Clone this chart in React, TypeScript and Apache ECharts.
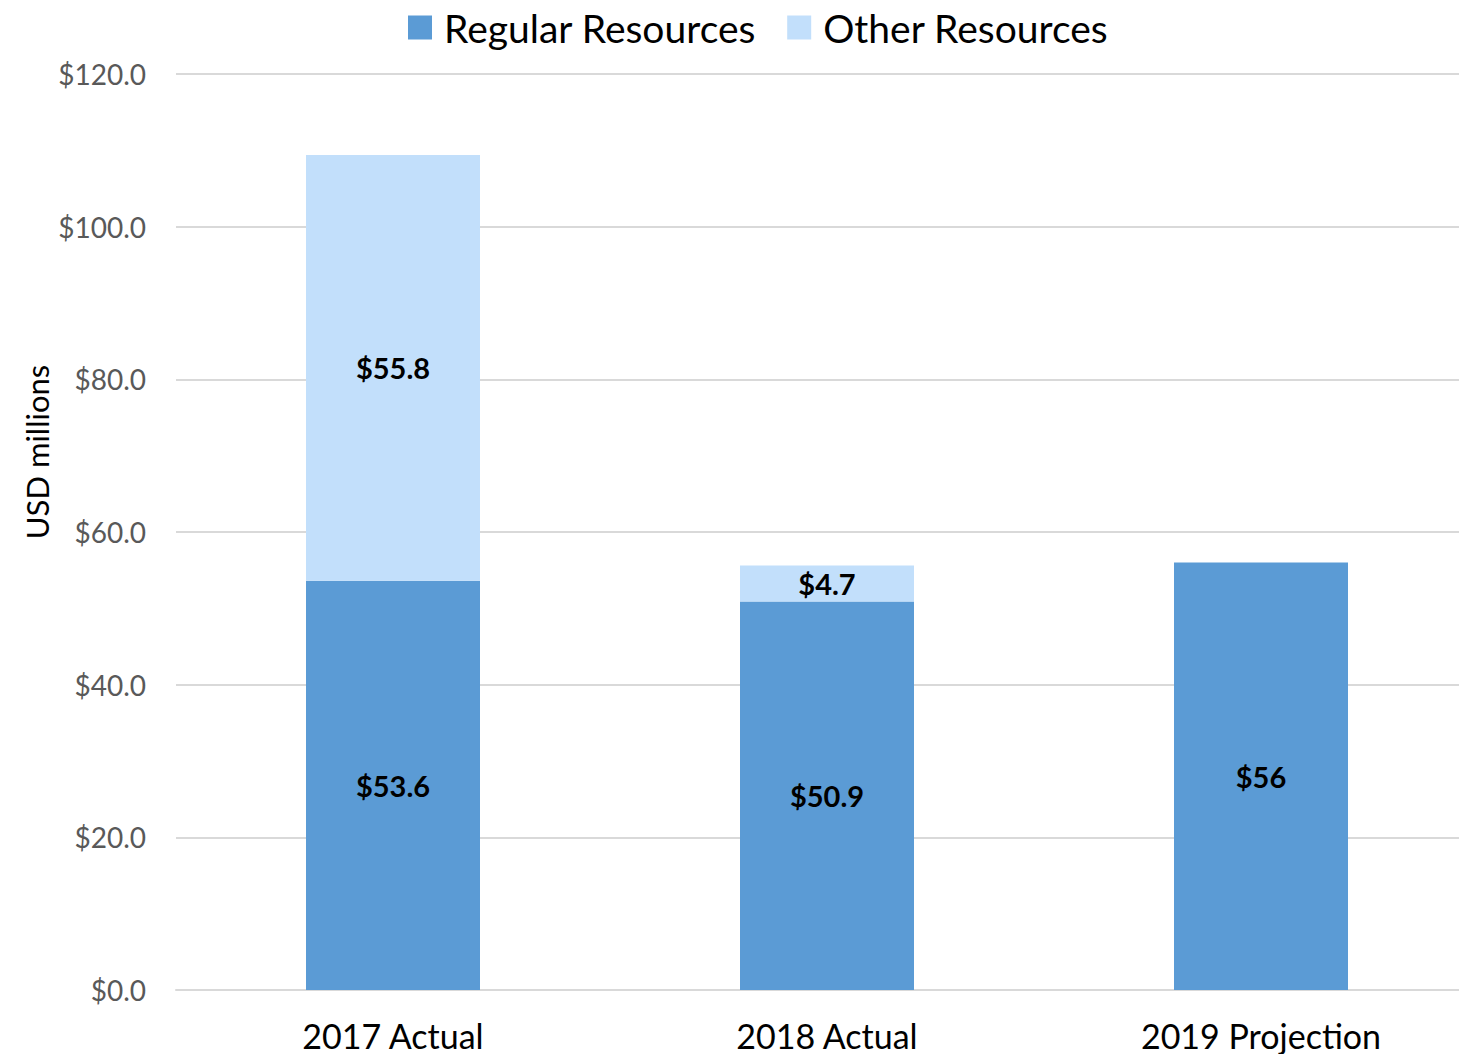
import React, { useEffect, useRef } from "react";
import * as echarts from "echarts";

const categories = ["2017 Actual", "2018 Actual", "2019 Projection"];
const regularResources = [53.6, 50.9, 56];
const otherResources: (number | null)[] = [55.8, 4.7, null];
const yTicks = [0, 20, 40, 60, 80, 100, 120];
const yTitle = "USD millions";

const FONT = "Lato, 'Open Sans', sans-serif";

export default function App() {
  const ref = useRef<HTMLDivElement>(null);
  useEffect(() => {
    document.body.style.margin = "0";
    document.body.style.overflow = "hidden";
    const chart = echarts.init(ref.current!, null, { renderer: "svg" });
    const labelStyle = {
      show: true,
      position: "inside" as const,
      color: "#000",
      fontWeight: "bold" as const,
      fontSize: 29,
      fontFamily: FONT,
      formatter: (p: any) => "$" + p.value,
    };
    chart.setOption({
      animation: false,
      textStyle: { fontFamily: FONT },
      legend: {
        top: 3,
        left: 403,
        itemWidth: 24,
        itemHeight: 24,
        itemGap: 31,
        icon: "rect",
        textStyle: {
          fontSize: 39,
          color: "#000",
          fontFamily: FONT,
          padding: [0, 0, 0, 7],
        },
        data: ["Regular Resources", "Other Resources"],
      },
      grid: { left: 176, right: 0, top: 74, bottom: 64 },
      graphic: [
        {
          type: "text",
          x: 37,
          y: 452,
          rotation: Math.PI / 2,
          style: {
            text: yTitle,
            fontSize: 31,
            fill: "#000",
            fontFamily: FONT,
            textAlign: "center",
            textVerticalAlign: "middle",
          },
        },
      ],
      xAxis: {
        type: "category",
        data: categories,
        axisTick: { show: false },
        axisLine: { lineStyle: { color: "#d9d9d9", width: 2 } },
        axisLabel: { fontSize: 34, color: "#000", margin: 28, fontFamily: FONT },
      },
      yAxis: {
        type: "value",
        min: yTicks[0],
        max: yTicks[yTicks.length - 1],
        interval: 20,
        axisLabel: {
          fontSize: 28,
          color: "#595959",
          margin: 30,
          fontFamily: FONT,
          formatter: (v: number) => "$" + v.toFixed(1),
        },
        splitLine: { lineStyle: { color: "#d9d9d9", width: 2 } },
      },
      series: [
        {
          name: "Regular Resources",
          type: "bar",
          stack: "total",
          barWidth: 174,
          data: regularResources,
          itemStyle: { color: "#5b9bd5" },
          label: labelStyle,
        },
        {
          name: "Other Resources",
          type: "bar",
          stack: "total",
          barWidth: 174,
          data: otherResources,
          itemStyle: { color: "#c2dffb" },
          label: labelStyle,
        },
      ],
    });
    return () => chart.dispose();
  }, []);
  return (
    <div style={{ width: 1459, height: 1054, overflow: "hidden" }}>
      <div ref={ref} style={{ width: 1478, height: 1054 }} />
    </div>
  );
}
